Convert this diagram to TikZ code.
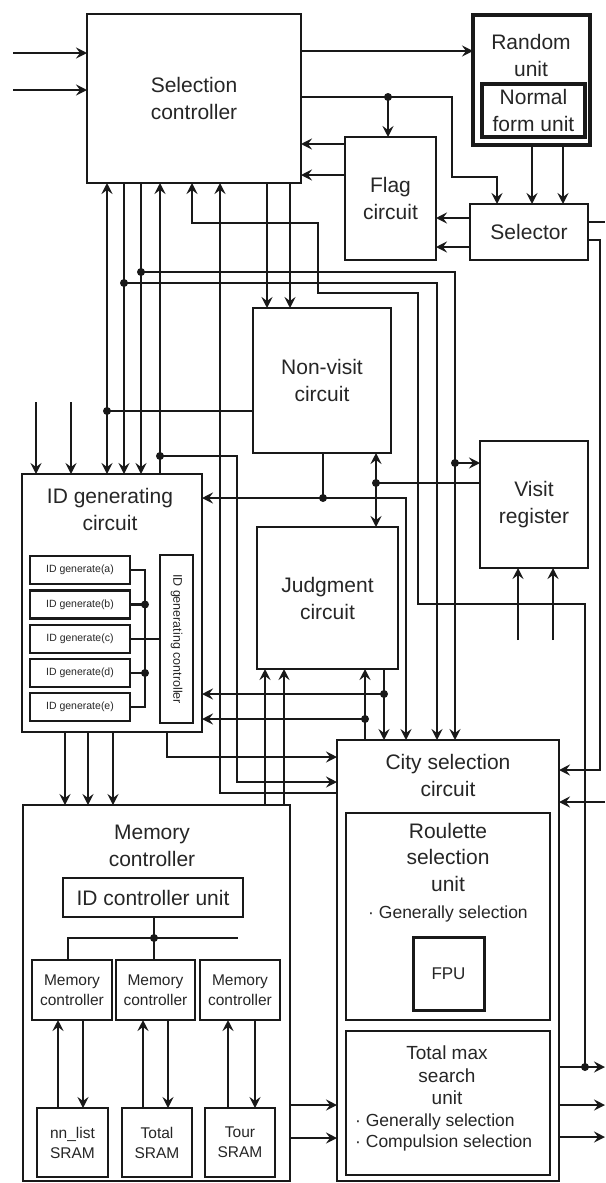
\documentclass[tikz,border=0pt]{standalone}
\usepackage{fontspec}
\setmainfont{Liberation Sans}
\usetikzlibrary{arrows.meta}
\newcommand\ftitle{\fontsize{21}{27}\selectfont}
\newcommand\frsu{\fontsize{21}{26.5}\selectfont}
\newcommand\ftms{\fontsize{19}{22.5}\selectfont}
\newcommand\fbul{\fontsize{17.5}{21}\selectfont}
\newcommand\fsmb{\fontsize{15.5}{20}\selectfont}
\newcommand\fgen{\fontsize{10.5}{12}\selectfont}
\newcommand\fctl{\fontsize{12.5}{14}\selectfont}
\newcommand\ffpu{\fontsize{17}{20}\selectfont}
\newcommand\jdot[1]{\fill[black!90] (#1) circle[radius=4pt];}
\begin{document}
\begin{tikzpicture}[x=1pt,y=-1pt,
  ln/.style={line width=2.1pt, draw=black!90},
  thk/.style={line width=2.8pt},
  arr/.style={ln, -{Stealth[length=11pt,width=11pt,inset=4pt]}},
  box/.style={draw=black!90, line width=2.6pt, inner sep=0pt, outer sep=0pt, align=center, font=\ftitle, text=black!85},
  txt/.style={inner sep=0pt, align=center, font=\ftitle, text=black!85},
  smb/.style={box, line width=2.2pt, font=\fsmb},
  gen/.style={box, line width=2.4pt, font=\fgen, minimum width=100, minimum height=28}
]
\useasboundingbox (0,0) rectangle (605,1183);
\fill[white] (0,0) rectangle (605,1183);

% ---------- boxes ----------
\node[box, minimum width=214, minimum height=169] (sc) at (194,98.5) {Selection\\controller};
\node[box, line width=3.2pt, minimum width=117, minimum height=130] (rnd) at (531.5,80) {};
\node[txt] (rndt) at (531,55) {Random\\unit};
\node[box, line width=3.2pt, minimum width=103, minimum height=53] (nfu) at (533.5,110.5) {Normal\\form unit};
\node[box, minimum width=91, minimum height=123] (flag) at (390.5,198.5) {Flag\\circuit};
\node[box, minimum width=118, minimum height=56] (sel) at (529,232) {Selector};
\node[box, minimum width=138, minimum height=145] (nv) at (322,380.5) {Non-visit\\circuit};
\node[box, minimum width=108, minimum height=127] (vr) at (534,504.5) {Visit\\register};
\node[box, minimum width=141, minimum height=142] (jd) at (327.5,598) {Judgment\\circuit};

\node[box, minimum width=180, minimum height=258] (idg) at (112,603) {};
\node[txt] (idgt) at (110,509) {ID generating\\circuit};
\node[gen] (ga) at (80,570) {ID generate(a)};
\node[gen] (gb) at (80,604.5) {ID generate(b)};
\node[gen] (gc) at (80,639) {ID generate(c)};
\node[gen] (gd) at (80,673) {ID generate(d)};
\node[gen] (ge) at (80,707) {ID generate(e)};
\node[box, line width=2.4pt, minimum width=33, minimum height=168] (igc) at (176.5,639) {};
\node[rotate=-90, font=\fctl, inner sep=0pt, text=black!85] (igct) at (igc.center) {ID generating controller};

\node[box, minimum width=222, minimum height=441] (cs) at (448,960.5) {};
\node[txt] (cst) at (448,775) {City selection\\circuit};
\node[box, minimum width=204, minimum height=207] (rsu) at (448,916.5) {};
\node[txt, font=\frsu] (rsut) at (448,857) {Roulette\\selection\\unit};
\node[txt, font=\fbul] (rsub) at (448,914) {· Generally selection};
\node[box, line width=3pt, minimum width=71, minimum height=73, font=\ffpu] (fpu) at (448.5,973.5) {FPU};
\node[box, minimum width=204, minimum height=144] (tms) at (448,1103) {};
\node[txt, font=\ftms] (tmst) at (447,1075.5) {Total max\\search\\unit};
\node[txt, font=\fbul, align=left, anchor=west] (tmsb) at (355,1132.5) {· Generally selection\\· Compulsion selection};

\node[box, minimum width=267, minimum height=376] (mc) at (156.5,993) {};
\node[txt] (mct) at (152,845.5) {Memory\\controller};
\node[box, minimum width=180, minimum height=39] (idcu) at (153,897.5) {ID controller unit};
\node[smb, minimum width=80, minimum height=60] (mc1) at (72,990) {Memory\\controller};
\node[smb, minimum width=79, minimum height=60] (mc2) at (155.5,990) {Memory\\controller};
\node[smb, minimum width=80, minimum height=60] (mc3) at (240,990) {Memory\\controller};
\node[smb, line width=2.8pt, minimum width=71, minimum height=69] (sr1) at (72.5,1142.5) {nn\_list\\SRAM};
\node[smb, line width=2.8pt, minimum width=70, minimum height=69] (sr2) at (157,1142.5) {Total\\SRAM};
\node[smb, line width=2.8pt, minimum width=70, minimum height=69] (sr3) at (240,1142.5) {Tour\\SRAM};

% ---------- coordinates ----------
\coordinate (in1) at (13,53);
\coordinate (in2) at (13,90);
\coordinate (h51) at (0,51);
\coordinate (h97) at (0,97);
\coordinate (d1) at (388,97);
\coordinate (b1) at (452,97);
\coordinate (b2) at (452,177);
\coordinate (v497) at (497,0);
\coordinate (h144) at (0,144);
\coordinate (h175) at (0,175);
\coordinate (v532) at (532,0);
\coordinate (v563) at (563,0);
\coordinate (h218) at (0,218);
\coordinate (h247) at (0,247);
\coordinate (e222) at (605,222);
\coordinate (r240) at (600,240);
\coordinate (r770) at (600,770);
\coordinate (e802) at (605,802);
\coordinate (d1067) at (585,1067);
\coordinate (e1067) at (605,1067);
\coordinate (e1105) at (605,1105);
\coordinate (e1137) at (605,1137);
\coordinate (v192) at (192,0);
\coordinate (v267) at (267,0);
\coordinate (v290) at (290,0);
\coordinate (d124) at (124,283);
\coordinate (v437) at (437,0);
\coordinate (d141) at (141,272);
\coordinate (d455) at (455,463);
\coordinate (d107) at (107,411);
\coordinate (d160) at (160,456);
\coordinate (b237) at (237,782);
\coordinate (b220) at (220,793);
\coordinate (t36) at (36,402);
\coordinate (t71) at (71,402);
\coordinate (d323) at (323,498);
\coordinate (v406) at (406,0);
\coordinate (d376) at (376,483);
\coordinate (t518) at (518,640);
\coordinate (t553) at (553,640);
\coordinate (d384) at (384,694);
\coordinate (d365) at (365,719);
\coordinate (v265) at (265,0);
\coordinate (v284) at (284,0);
\coordinate (b167) at (167,757);
\coordinate (v65) at (65,0);
\coordinate (v88) at (88,0);
\coordinate (v113) at (113,0);
\coordinate (h1105) at (0,1105);
\coordinate (h1138) at (0,1138);
\coordinate (d154) at (154,938);
\coordinate (b68) at (68,938);
\coordinate (b238) at (238,938);
\coordinate (u58) at (58,0);
\coordinate (u83) at (83,0);
\coordinate (u143) at (143,0);
\coordinate (u168) at (168,0);
\coordinate (u228) at (228,0);
\coordinate (u255) at (255,0);
\coordinate (g1) at (145,570);
\coordinate (g2) at (145,604.5);
\coordinate (g4) at (145,673);
\coordinate (g5) at (145,707);

% ---------- connectors ----------
\draw[arr] (in1) -- (in1 -| sc.west);
\draw[arr] (in2) -- (in2 -| sc.west);
\draw[arr] (sc.east |- h51) -- (rnd.west |- h51);
\draw[arr] (sc.east |- h97) -- (b1) -- (b2) -| (sel.north -| v497);
\draw[arr] (d1) -- (flag.north -| d1);
\draw[arr] (flag.west |- h144) -- (sc.east |- h144);
\draw[arr] (flag.west |- h175) -- (sc.east |- h175);
\draw[arr] (rnd.south -| v532) -- (sel.north -| v532);
\draw[arr] (rnd.south -| v563) -- (sel.north -| v563);
\draw[arr] (sel.west |- h218) -- (flag.east |- h218);
\draw[arr] (sel.west |- h247) -- (flag.east |- h247);
\draw[ln] (sel.east |- e222) -- (e222);
\draw[arr] (sel.east |- r240) -- (r240) -- (r770) -- (cs.east |- r770);
\draw[arr] (e802) -- (cs.east |- e802);
\draw[arr] (cs.east |- e1067) -- (e1067);
\draw[arr] (cs.east |- e1105) -- (e1105);
\draw[arr] (cs.east |- e1137) -- (e1137);
\draw[arr] (d1067) -- (585,604) -- (418,604) -- (418,293) -- (318,293) -- (318,223) -- (192,223) -- (sc.south -| v192);
\draw[arr] (sc.south -| v267) -- (nv.north -| v267);
\draw[arr, thk] (sc.south -| v290) -- (nv.north -| v290);
\draw[arr, thk] (sc.south -| d124) -- (idg.north -| d124);
\draw[arr] (d124) -| (cs.north -| v437);
\draw[arr] (sc.south -| d141) -- (idg.north -| d141);
\draw[arr, thk] (d141) -| (cs.north -| d455);
\draw[arr] (d455) -- (vr.west |- d455);
\draw[ln] (nv.west |- d107) -- (d107);
\draw[arr] (d107) -- (sc.south -| d107);
\draw[arr] (d107) -- (idg.north -| d107);
\draw[arr] (idg.north -| d160) -- (sc.south -| d160);
\draw[arr] (d160) -| (b237) -- (cs.west |- b237);
\draw[arr] (cs.west |- b220) -- (b220) -- (sc.south -| b220);
\draw[arr] (t36) -- (idg.north -| t36);
\draw[arr] (t71) -- (idg.north -| t71);
\draw[ln] (nv.south -| d323) -- (d323);
\draw[arr] (d323) -- (idg.east |- d323);
\draw[arr] (d323) -| (cs.north -| v406);
\draw[ln] (vr.west |- d376) -- (d376);
\draw[arr] (d376) -- (nv.south -| d376);
\draw[arr] (d376) -- (jd.north -| d376);
\draw[arr] (t518) -- (vr.south -| t518);
\draw[arr] (t553) -- (vr.south -| t553);
\draw[arr] (jd.south -| d384) -- (cs.north -| d384);
\draw[arr] (d384) -- (idg.east |- d384);
\draw[arr] (cs.north -| d365) -- (jd.south -| d365);
\draw[arr] (d365) -- (idg.east |- d365);
\draw[arr] (mc.north -| v265) -- (jd.south -| v265);
\draw[arr] (mc.north -| v284) -- (jd.south -| v284);
\draw[arr] (idg.south -| b167) -- (b167) -- (cs.west |- b167);
\draw[arr] (idg.south -| v65) -- (mc.north -| v65);
\draw[arr] (idg.south -| v88) -- (mc.north -| v88);
\draw[arr] (idg.south -| v113) -- (mc.north -| v113);
\draw[arr] (mc.east |- h1105) -- (cs.west |- h1105);
\draw[arr] (mc.east |- h1138) -- (cs.west |- h1138);
% memory controller internals
\draw[ln] (idcu.south -| d154) -- (d154);
\draw[ln] (mc1.north -| b68) -- (b68) -- (b238);
\draw[ln] (d154) -- (mc2.north -| d154);
\draw[arr] (sr1.north -| u58) -- (mc1.south -| u58);
\draw[arr] (mc1.south -| u83) -- (sr1.north -| u83);
\draw[arr] (sr2.north -| u143) -- (mc2.south -| u143);
\draw[arr] (mc2.south -| u168) -- (sr2.north -| u168);
\draw[arr] (sr3.north -| u228) -- (mc3.south -| u228);
\draw[arr] (mc3.south -| u255) -- (sr3.north -| u255);
% ID generator bus
\draw[ln] (ga.east) -- (g1) -- (g5) -- (ge.east);
\draw[ln] (gb.east) -- (g2);
\draw[ln] (gd.east) -- (g4);
\draw[ln] (gc.east) -- (igc.west |- gc.east);

% ---------- junction dots ----------
\jdot{d1}
\jdot{d124}
\jdot{d141}
\jdot{d455}
\jdot{d107}
\jdot{d160}
\jdot{d323}
\jdot{d376}
\jdot{d384}
\jdot{d365}
\jdot{d1067}
\jdot{d154}
\jdot{g2}
\jdot{g4}
\end{tikzpicture}
\end{document}
